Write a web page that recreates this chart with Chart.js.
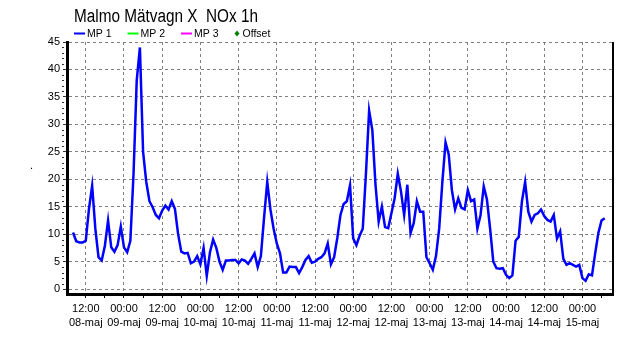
<!DOCTYPE html>
<html><head><meta charset="utf-8">
<script src="https://cdn.jsdelivr.net/npm/chart.js@4"></script>
<style>html,body{margin:0;padding:0;background:#fff}#wrap{width:633px;height:338px;position:relative}</style>
</head><body><div id="wrap"><canvas id="c" width="633" height="338"></canvas></div>
<script>
const TITLE = 'Malmo Mätvagn X  NOx 1h';
const SERIES_NAMES = ['MP 1', 'MP 2', 'MP 3', 'Offset'];
const SERIES_COLORS = ['#0000ff', '#00ff00', '#ff00ff', '#008000'];
const START_HOUR = 8; // 08-maj 08:00, hourly values
const MP1 = [
  10.3, 8.7, 8.5, 8.5, 8.8, 14.6, 18.8, 11, 5.8, 5.2, 7.9, 12.5, 7.6, 6.8, 8, 11.4,
  7.6, 6.7, 8.8, 21, 38, 44, 25, 19.5, 16, 14.9, 13.5, 12.9, 14.3, 15.2, 14.5, 16,
  14.6, 10, 6.8, 6.5, 6.6, 4.7, 5, 6, 4.5, 7.5, 2.4, 6.7, 9, 7.5, 5, 3.5,
  5.2, 5.2, 5.3, 5.3, 4.7, 5.4, 5.2, 4.6, 5.5, 6.5, 4, 6, 13, 19.5, 14.5, 11,
  8.3, 6.5, 3, 3, 4.1, 4, 4, 2.9, 4, 5.3, 6, 4.8, 5, 5.5, 5.8, 6.5,
  8.3, 4.5, 5.8, 9.3, 13.5, 15.5, 16, 18.9, 9.2, 8, 9.7, 11, 21, 32.5, 29, 19,
  12.3, 15, 11.3, 11.1, 13.8, 16.5, 21, 17.8, 13.5, 19, 10.2, 12, 16, 14.1, 14.1, 5.8,
  4.7, 3.5, 6, 11, 19.5, 26.7, 24.5, 18, 14.5, 16.5, 14.8, 14.5, 18, 16, 16.3, 11,
  13.5, 18.7, 16.3, 11, 5, 3.8, 3.7, 3.8, 2.6, 2, 2.5, 8.8, 9.5, 16, 19.5, 14.1,
  12.3, 13.5, 13.8, 14.5, 13.3, 12.6, 12.3, 13.5, 9.2, 10.5, 5.5, 4.4, 4.7, 4.4, 4.1, 4.4,
  2, 1.5, 2.7, 2.5, 6.5, 10.2, 12.5, 12.9
];
const MP2 = [];
const MP3 = [];
const OFFSET = [];
const Y_TICKS = [0, 5, 10, 15, 20, 25, 30, 35, 40, 45];
const X_TICK_HOURS = [12, 24, 36, 48, 60, 72, 84, 96, 108, 120, 132, 144, 156, 168];
const X_TICK_TIMES = ['12:00','00:00','12:00','00:00','12:00','00:00','12:00','00:00','12:00','00:00','12:00','00:00','12:00','00:00'];
const X_TICK_DATES = ['08-maj','09-maj','09-maj','10-maj','10-maj','11-maj','11-maj','12-maj','12-maj','13-maj','13-maj','14-maj','14-maj','15-maj'];
const X_MINOR_HOURS = [18, 30, 42, 54, 66, 78, 90, 102, 114, 126, 138, 150, 162, 174];

const FONT = '"Liberation Sans", Arial, sans-serif';

const decor = {
  id: 'decor',
  afterDraw(chart) {
    const { ctx, chartArea: a, scales: { y } } = chart;
    ctx.save();
    // right frame line
    ctx.strokeStyle = '#000';
    ctx.lineWidth = 2;
    ctx.beginPath(); ctx.moveTo(a.right, a.top); ctx.lineTo(a.right, a.bottom + 1.5); ctx.stroke();
    // minor y ticks
    ctx.lineWidth = 1;
    ctx.strokeStyle = '#333';
    for (let v = Math.ceil(y.min); v <= y.max; v++) {
      if (v % 5 === 0) continue;
      const py = Math.round(y.getPixelForValue(v)) + 0.5;
      ctx.beginPath(); ctx.moveTo(a.left - 5, py); ctx.lineTo(a.left - 3, py); ctx.stroke();
    }
    // title
    ctx.fillStyle = '#000';
    ctx.textBaseline = 'alphabetic';
    ctx.textAlign = 'left';
    ctx.font = '18px ' + FONT;
    const tw = ctx.measureText(TITLE).width;
    ctx.save();
    ctx.translate(74, 22);
    ctx.scale(184 / tw, 1);
    ctx.fillText(TITLE, 0, 0);
    ctx.restore();
    // legend
    ctx.font = '10.5px ' + FONT;
    ctx.textBaseline = 'middle';
    let x = 74;
    const ly = 33.5;
    chart.data.datasets.forEach((ds, i) => {
      if (i < 3) {
        ctx.strokeStyle = ds.borderColor;
        ctx.lineWidth = 2;
        ctx.beginPath(); ctx.moveTo(x, ly); ctx.lineTo(x + 11, ly); ctx.stroke();
        x += 13;
      } else {
        ctx.fillStyle = ds.borderColor;
        ctx.beginPath();
        ctx.moveTo(x + 2.5, ly - 3); ctx.lineTo(x + 5, ly); ctx.lineTo(x + 2.5, ly + 3); ctx.lineTo(x, ly);
        ctx.closePath(); ctx.fill();
        x += 8;
      }
      ctx.fillStyle = '#000';
      ctx.fillText(ds.label, x, ly + 0.5);
      x += ctx.measureText(ds.label).width + 16;
    });
    // stray axis-title dot
    ctx.font = '11px ' + FONT;
    ctx.textBaseline = 'alphabetic';
    ctx.fillText('.', 30, 169);
    ctx.restore();
  }
};

new Chart(document.getElementById('c'), {
  type: 'line',
  data: {
    datasets: [
      { label: SERIES_NAMES[0], data: MP1.map((v, i) => ({ x: START_HOUR + i, y: v })), borderColor: SERIES_COLORS[0], borderWidth: 2.5, pointRadius: 0, tension: 0, fill: false },
      { label: SERIES_NAMES[1], data: MP2, borderColor: SERIES_COLORS[1], pointRadius: 0 },
      { label: SERIES_NAMES[2], data: MP3, borderColor: SERIES_COLORS[2], pointRadius: 0 },
      { label: SERIES_NAMES[3], data: OFFSET, borderColor: SERIES_COLORS[3], backgroundColor: SERIES_COLORS[3], showLine: false, pointStyle: 'rectRot' }
    ]
  },
  options: {
    responsive: false,
    animation: false,
    devicePixelRatio: 1,
    layout: { padding: { top: 42, right: 20, left: 0, bottom: 0 } },
    plugins: { legend: { display: false }, title: { display: false }, tooltip: { enabled: false } },
    scales: {
      x: {
        type: 'linear', min: 6.1, max: 177.6,
        afterBuildTicks: s => { s.ticks = X_TICK_HOURS.concat(X_MINOR_HOURS).sort((a, b) => a - b).map(v => ({ value: v })); },
        afterFit: s => { s.height = 44; },
        ticks: {
          autoSkip: false, maxRotation: 0, minRotation: 0, padding: 4, color: '#000',
          font: { family: FONT, size: 11, lineHeight: 14 / 11 },
          callback: v => { const i = X_TICK_HOURS.indexOf(v); return i < 0 ? '' : [X_TICK_TIMES[i], X_TICK_DATES[i]]; }
        },
        grid: {
          color: c => (c.tick && X_TICK_HOURS.includes(c.tick.value)) ? '#808080' : 'rgba(0,0,0,0)',
          lineWidth: 1, tickLength: 4, tickColor: '#000', tickWidth: 1, tickBorderDash: []
        },
        border: { display: true, color: '#000', width: 3, dash: [3, 3] }
      },
      y: {
        min: -0.9, max: 45,
        afterBuildTicks: s => { s.ticks = Y_TICKS.map(v => ({ value: v })); },
        afterFit: s => { s.width = 67; },
        ticks: { padding: 3, color: '#000', font: { family: FONT, size: 11 } },
        grid: { color: '#808080', lineWidth: 1, tickLength: 4, tickColor: '#333', tickWidth: 1, tickBorderDash: [] },
        border: { display: true, color: '#000', width: 3, dash: [3, 3] }
      }
    }
  },
  plugins: [decor]
});
</script>
</body></html>
